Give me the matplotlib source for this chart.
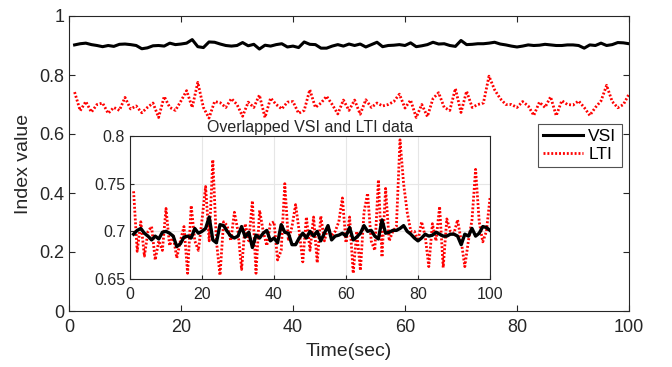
import numpy as np
import matplotlib
matplotlib.use("Agg")
import matplotlib.pyplot as plt

plt.rcParams['font.family'] = ['Liberation Sans', 'DejaVu Sans']

t = np.arange(1, 101)

# VSI index (main plot level, ~0.9)
vsi = np.array([
    0.902, 0.906, 0.908, 0.903, 0.900, 0.896, 0.900, 0.897, 0.904, 0.905,
    0.903, 0.900, 0.889, 0.892, 0.899, 0.900, 0.898, 0.908, 0.903, 0.905,
    0.908, 0.920, 0.896, 0.893, 0.912, 0.911, 0.905, 0.900, 0.898, 0.900,
    0.910, 0.899, 0.904, 0.888, 0.901, 0.898, 0.903, 0.906, 0.895, 0.898,
    0.893, 0.912, 0.904, 0.903, 0.891, 0.891, 0.898, 0.903, 0.898, 0.905,
    0.900, 0.905, 0.895, 0.903, 0.911, 0.896, 0.900, 0.901, 0.903, 0.900,
    0.909, 0.896, 0.899, 0.903, 0.911, 0.905, 0.906, 0.900, 0.897, 0.917,
    0.903, 0.904, 0.906, 0.906, 0.908, 0.911, 0.905, 0.902, 0.898, 0.895,
    0.898, 0.902, 0.900, 0.901, 0.904, 0.902, 0.900, 0.900, 0.902, 0.902,
    0.900, 0.891, 0.902, 0.900, 0.908, 0.900, 0.903, 0.910, 0.909, 0.906,
])

# LTI index
lti = np.array([
    0.742, 0.679, 0.710, 0.674, 0.700, 0.705, 0.670, 0.690, 0.680, 0.724,
    0.685, 0.695, 0.672, 0.690, 0.705, 0.656, 0.727, 0.690, 0.680, 0.712,
    0.747, 0.690, 0.775, 0.690, 0.654, 0.710, 0.706, 0.690, 0.720, 0.700,
    0.660, 0.708, 0.690, 0.732, 0.656, 0.722, 0.700, 0.685, 0.708, 0.710,
    0.670, 0.680, 0.750, 0.690, 0.705, 0.728, 0.700, 0.668, 0.715, 0.680,
    0.715, 0.667, 0.716, 0.690, 0.705, 0.695, 0.700, 0.710, 0.735, 0.688,
    0.715, 0.656, 0.700, 0.659, 0.720, 0.740, 0.690, 0.680, 0.754, 0.673,
    0.745, 0.690, 0.700, 0.705, 0.796, 0.750, 0.720, 0.700, 0.700, 0.690,
    0.710, 0.695, 0.663, 0.708, 0.690, 0.726, 0.662, 0.713, 0.700, 0.698,
    0.712, 0.690, 0.663, 0.690, 0.712, 0.765, 0.710, 0.689, 0.700, 0.735,
])

vsi_shift = 0.205  # VSI moved down to overlap LTI in the inset

main_xticks = [0, 20, 40, 60, 80, 100]
main_yticks = [0, 0.2, 0.4, 0.6, 0.8, 1]
inset_yticks = [0.65, 0.7, 0.75, 0.8]

axcol = '#262626'

fig = plt.figure(figsize=(6.72, 3.67), dpi=100)
ax = fig.add_axes([69/672, 1-311/367, 560/672, 295/367])

ax.plot(t, vsi, color='black', linewidth=2.2, label='VSI')
ax.plot(t, lti, color='red', linewidth=2.0, linestyle=(0, (0.7, 0.7)), label='LTI')
ax.set_xlim(0, 100)
ax.set_ylim(0, 1)
ax.set_xticks(main_xticks)
ax.set_yticks(main_yticks)
ax.set_yticklabels(['0', '0.2', '0.4', '0.6', '0.8', '1'])
ax.tick_params(direction='in', top=True, right=True, labelsize=13, colors=axcol, length=4)
ax.tick_params(axis='x', pad=6)
for s in ax.spines.values():
    s.set_color(axcol)
    s.set_linewidth(0.8)
ax.set_xlabel('Time(sec)', fontsize=14, color=axcol, labelpad=5)
ax.set_ylabel('Index value', fontsize=14, color=axcol, labelpad=5)

leg = ax.legend(loc='upper left', bbox_to_anchor=(538/672, 1-124/367), bbox_transform=fig.transFigure,
                fontsize=12.5, frameon=True, fancybox=False, handlelength=2.3, handletextpad=0.3,
                borderpad=0.3, labelspacing=0.15, borderaxespad=0)
leg.get_frame().set_edgecolor(axcol)
leg.get_frame().set_linewidth(0.8)

ins = fig.add_axes([130/672, 1-279/367, 360/672, 143/367])
ins.plot(t, lti, color='red', linewidth=2.0, linestyle=(0, (0.7, 0.7)))
ins.plot(t, vsi - vsi_shift, color='black', linewidth=2.4)
ins.set_xlim(0, 100)
ins.set_ylim(0.65, 0.8)
ins.set_xticks(main_xticks)
ins.set_yticks(inset_yticks)
ins.set_yticklabels(['0.65', '0.7', '0.75', '0.8'])
ins.grid(True, color='#e6e6e6', linewidth=0.8)
ins.set_axisbelow(True)
ins.tick_params(direction='in', labelsize=11.5, colors=axcol, length=3)
ins.tick_params(axis='x', pad=6)
for s in ins.spines.values():
    s.set_color(axcol)
    s.set_linewidth(0.8)
ins.set_title('Overlapped VSI and LTI data', fontsize=11.5, color=axcol, pad=3)

fig.savefig('out.png', dpi=100)
